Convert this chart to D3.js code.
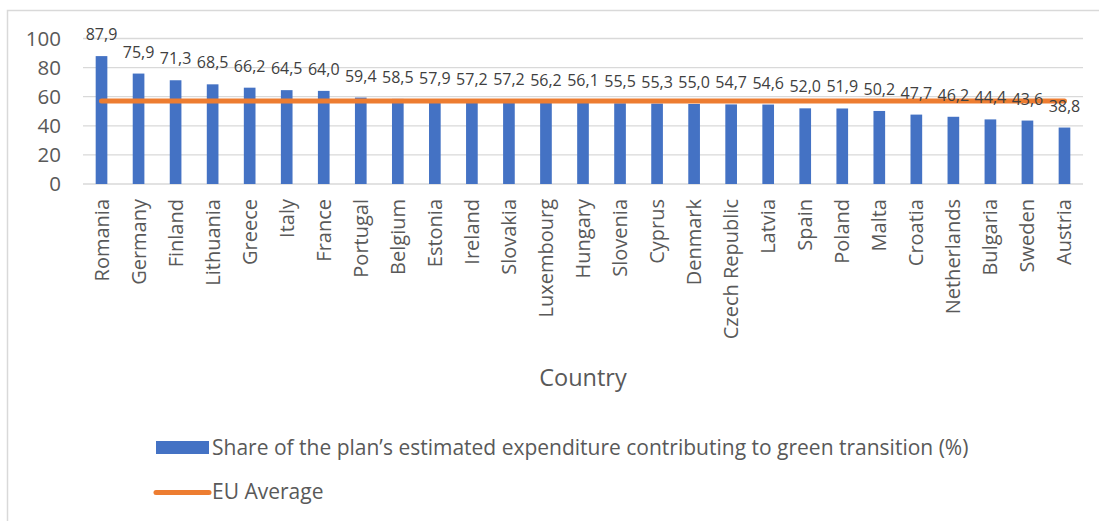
<!DOCTYPE html>
<html>
<head>
<meta charset="utf-8">
<script src="https://cdn.jsdelivr.net/npm/d3@7"></script>
<style>
  html, body { margin: 0; padding: 0; background: #fff; }
  svg { display: block; font-family: "Open Sans", "Noto Sans", sans-serif; }
</style>
</head>
<body>
<svg id="chart" width="1099" height="521"></svg>
<script>
// Countries, ordered by green-transition share
const countries = ["Romania","Germany","Finland","Lithuania","Greece","Italy","France","Portugal","Belgium","Estonia","Ireland","Slovakia","Luxembourg","Hungary","Slovenia","Cyprus","Denmark","Czech Republic","Latvia","Spain","Poland","Malta","Croatia","Netherlands","Bulgaria","Sweden","Austria"];
const greenShare = [87.9,75.9,71.3,68.5,66.2,64.5,64.0,59.4,58.5,57.9,57.2,57.2,56.2,56.1,55.5,55.3,55.0,54.7,54.6,52.0,51.9,50.2,47.7,46.2,44.4,43.6,38.8];
const euAverage = 57.0;
const yTicks = [0, 20, 40, 60, 80, 100];
const xTitle = "Country";
const seriesNames = ["Share of the plan\u2019s estimated expenditure contributing to green transition (%)", "EU Average"];

const svg = d3.select("#chart");
const blue = "#4472C4", orange = "#ED7D31", grid = "#D9D9D9", text = "#595959";

// outer frame
svg.append("rect")
  .attr("x", 7.5).attr("y", 10.5).attr("width", 1100).attr("height", 520)
  .attr("fill", "none").attr("stroke", grid).attr("stroke-width", 1.5);

const plot = { left: 83, right: 1083, top: 38.5, bottom: 184 };

const x = d3.scaleBand().domain(countries).range([plot.left, plot.right]).paddingInner(0.685).paddingOuter(0.3425);
const y = d3.scaleLinear().domain([0, 100]).range([plot.bottom, plot.top]);

// gridlines
svg.append("g")
  .selectAll("line").data(yTicks).join("line")
  .attr("x1", plot.left).attr("x2", plot.right)
  .attr("y1", d => y(d)).attr("y2", d => y(d))
  .attr("stroke", grid).attr("stroke-width", 1.3);

// y axis labels
const yAxis = svg.append("g")
  .attr("transform", `translate(${plot.left - 22},0)`)
  .call(d3.axisLeft(y).tickValues(yTicks).tickSize(0).tickPadding(0));
yAxis.select(".domain").remove();
yAxis.selectAll("text")
  .attr("font-size", 20.5).attr("fill", text)
  .attr("font-family", "'Open Sans', sans-serif");

// bars
svg.append("g")
  .selectAll("rect").data(countries).join("rect")
  .attr("x", d => x(d)).attr("width", x.bandwidth())
  .attr("y", (d, i) => y(greenShare[i]))
  .attr("height", (d, i) => y(0) - y(greenShare[i]))
  .attr("fill", blue);

// EU average line
const line = d3.line().x(d => x(d) + x.bandwidth() / 2).y(() => y(euAverage));
svg.append("path")
  .datum(countries)
  .attr("d", line)
  .attr("fill", "none").attr("stroke", orange)
  .attr("stroke-width", 5).attr("stroke-linecap", "round");

// value labels
const fmt = v => v.toFixed(1).replace(".", ",");
svg.append("g")
  .selectAll("text").data(countries).join("text")
  .attr("x", d => x(d) + x.bandwidth() / 2)
  .attr("y", (d, i) => y(greenShare[i]) - 16)
  .attr("text-anchor", "middle")
  .attr("font-size", 16).attr("fill", "#404040")
  .text((d, i) => fmt(greenShare[i]));

// category labels, rotated
svg.append("g")
  .selectAll("text").data(countries).join("text")
  .attr("transform", d => `translate(${x(d) + x.bandwidth() / 2 + 7},199) rotate(-90)`)
  .attr("text-anchor", "end")
  .attr("font-size", 20).attr("fill", text)
  .text(d => d);

// axis title
svg.append("text")
  .attr("x", 583).attr("y", 386)
  .attr("text-anchor", "middle")
  .attr("font-size", 23.5).attr("fill", text)
  .text(xTitle);

// legend
const legend = svg.append("g");
legend.append("rect")
  .attr("x", 156).attr("y", 441).attr("width", 53).attr("height", 13)
  .attr("fill", blue);
legend.append("text")
  .attr("x", 212).attr("y", 455)
  .attr("font-size", 21).attr("fill", text)
  .text(seriesNames[0]);
legend.append("line")
  .attr("x1", 156).attr("x2", 209).attr("y1", 492.5).attr("y2", 492.5)
  .attr("stroke", orange).attr("stroke-width", 5).attr("stroke-linecap", "round");
legend.append("text")
  .attr("x", 212).attr("y", 499)
  .attr("font-size", 21).attr("fill", text)
  .text(seriesNames[1]);
</script>
</body>
</html>
